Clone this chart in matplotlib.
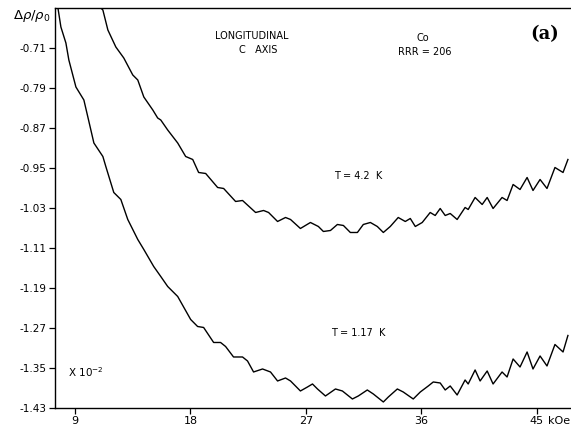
import matplotlib
matplotlib.use('Agg')
import matplotlib.pyplot as plt
import matplotlib.transforms as mtransforms

# T = 1.17 K trace (field in kOe, delta rho / rho0 in units of 1e-2)
field_low_t = [7.68, 7.91, 8.30, 8.53, 9.08, 9.70, 10.01, 10.48, 11.18, 11.41,
               12.03, 12.58, 13.12, 13.90, 14.37, 15.14, 15.69, 16.23, 17.01, 18.02,
               18.56, 19.03, 19.81, 20.35, 20.74, 21.36, 22.06, 22.45, 22.92, 23.62,
               24.24, 24.79, 25.41, 25.80, 26.57, 27.12, 27.51, 27.90, 28.52, 29.30,
               29.84, 30.62, 31.08, 31.78, 32.25, 33.03, 33.42, 34.12, 34.58, 35.36,
               35.91, 36.53, 36.92, 37.46, 37.85, 38.24, 38.78, 39.40, 39.64, 40.18,
               40.57, 41.12, 41.58, 42.28, 42.67, 43.14, 43.68, 44.23, 44.69, 45.24,
               45.78, 46.40, 47.03, 47.41]
rho_low_t = [-0.630, -0.668, -0.700, -0.734, -0.788, -0.814, -0.848, -0.900, -0.927, -0.947,
             -0.999, -1.013, -1.053, -1.093, -1.113, -1.147, -1.167, -1.187, -1.207, -1.253,
             -1.267, -1.269, -1.299, -1.299, -1.307, -1.328, -1.328, -1.336, -1.358, -1.352,
             -1.358, -1.376, -1.370, -1.376, -1.396, -1.388, -1.382, -1.392, -1.406, -1.392,
             -1.396, -1.412, -1.406, -1.394, -1.402, -1.418, -1.408, -1.392, -1.398, -1.412,
             -1.398, -1.386, -1.378, -1.380, -1.394, -1.386, -1.404, -1.374, -1.382, -1.354,
             -1.376, -1.356, -1.382, -1.358, -1.368, -1.332, -1.348, -1.318, -1.352, -1.326,
             -1.346, -1.303, -1.318, -1.285]

# T = 4.2 K trace
field_high_t = [11.02, 11.18, 11.57, 12.19, 12.81, 13.51, 13.90, 14.37, 15.07, 15.45,
                15.69, 16.23, 17.01, 17.63, 18.18, 18.64, 19.19, 20.12, 20.59, 21.52,
                22.06, 23.08, 23.70, 24.09, 24.79, 25.41, 25.80, 26.57, 27.35, 27.97,
                28.36, 28.91, 29.45, 29.92, 30.46, 31.01, 31.47, 32.02, 32.56, 33.03,
                33.57, 34.19, 34.74, 35.13, 35.52, 36.06, 36.68, 37.07, 37.46, 37.85,
                38.24, 38.78, 39.40, 39.64, 40.18, 40.73, 41.12, 41.58, 42.28, 42.67,
                43.14, 43.68, 44.23, 44.69, 45.24, 45.78, 46.40, 47.03, 47.41]
rho_high_t = [-0.630, -0.634, -0.674, -0.708, -0.730, -0.764, -0.774, -0.808, -0.834, -0.850,
              -0.854, -0.874, -0.900, -0.927, -0.933, -0.959, -0.961, -0.989, -0.991, -1.017,
              -1.015, -1.039, -1.035, -1.039, -1.057, -1.049, -1.053, -1.071, -1.059, -1.067,
              -1.077, -1.075, -1.063, -1.065, -1.079, -1.079, -1.063, -1.059, -1.067, -1.079,
              -1.067, -1.049, -1.057, -1.051, -1.067, -1.059, -1.039, -1.045, -1.031, -1.045,
              -1.041, -1.053, -1.029, -1.033, -1.009, -1.023, -1.009, -1.031, -1.009, -1.015,
              -0.983, -0.993, -0.969, -0.995, -0.973, -0.991, -0.949, -0.959, -0.933]

x_ticks = [9, 18, 27, 36, 45]
y_ticks = [-0.71, -0.79, -0.87, -0.95, -1.03, -1.11, -1.19, -1.27, -1.35, -1.43]

fig = plt.figure(figsize=(5.71, 4.32), dpi=100)
ax = fig.add_axes([0.0963, 0.0556, 0.9037, 0.9259])

ax.plot(field_low_t, rho_low_t, color='black', linewidth=1.0, solid_joinstyle='round')
ax.plot(field_high_t, rho_high_t, color='black', linewidth=1.0, solid_joinstyle='round')

ax.set_xlim(7.45, 47.65)
ax.set_ylim(-1.43, -0.63)

ax.set_xticks(x_ticks)
ax.set_xticklabels([str(v) for v in x_ticks], fontsize=8)
ax.set_yticks(y_ticks)
ax.set_yticklabels([f'{v:.2f}' for v in y_ticks], fontsize=7.5)
ax.tick_params(axis='both', direction='out', length=4, width=0.9, pad=2)

ax.spines['right'].set_visible(False)
for side in ['left', 'bottom', 'top']:
    ax.spines[side].set_linewidth(1.0)

# unit after the last x tick label
trans = mtransforms.blended_transform_factory(ax.transData, ax.transAxes)
ax.text(45.85, -0.032, 'kOe', transform=trans, fontsize=8, ha='left', va='center')

# annotations
ax.text(0.025, 0.09, r'X 10$^{-2}$', transform=ax.transAxes, fontsize=7.5, ha='left', va='center')
fig.text(0.022, 0.963, r'$\Delta\rho/\rho_0$', fontsize=9.5, ha='left', va='center')
fig.text(0.441, 0.917, 'LONGITUDINAL', fontsize=7, ha='center', va='center')
fig.text(0.452, 0.884, 'C   AXIS', fontsize=7, ha='center', va='center')
fig.text(0.741, 0.912, 'Co', fontsize=7, ha='center', va='center')
fig.text(0.744, 0.880, 'RRR = 206', fontsize=7, ha='center', va='center')
fig.text(0.953, 0.921, '(a)', fontsize=13, fontweight='bold', family='DejaVu Serif',
         ha='center', va='center')
ax.text(31.1, -0.966, 'T = 4.2  K', fontsize=7, ha='center', va='center')
ax.text(31.1, -1.280, 'T = 1.17  K', fontsize=7, ha='center', va='center')

plt.savefig('out.png', dpi=100)
plt.close()
